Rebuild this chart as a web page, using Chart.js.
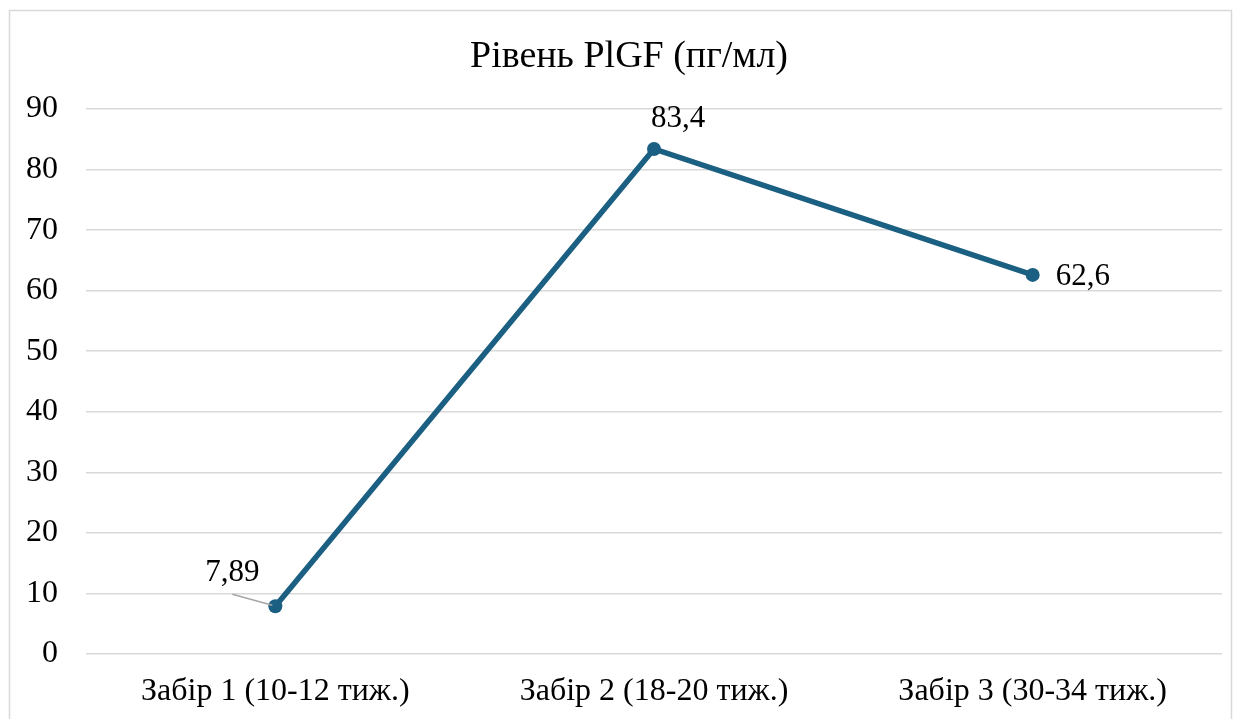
<!DOCTYPE html>
<html>
<head>
<meta charset="utf-8">
<script src="https://cdn.jsdelivr.net/npm/chart.js@4.4.1/dist/chart.umd.min.js"></script>
<style>
  html, body { margin: 0; padding: 0; background: #fff; }
  #wrap { position: relative; width: 1239px; height: 719px; }
</style>
</head>
<body>
<div id="wrap"><canvas id="chart" width="1239" height="719"></canvas></div>
<script>
// дані з графіка
const categories = ["Забір 1 (10-12 тиж.)", "Забір 2 (18-20 тиж.)", "Забір 3 (30-34 тиж.)"];
const plgfValues = [7.89, 83.4, 62.6];
const yTicks = [0, 10, 20, 30, 40, 50, 60, 70, 80, 90];
const chartTitle = "Рівень PlGF (пг/мл)";

const FONT = "'Liberation Serif', 'Times New Roman', serif";
const LINE_COLOR = "#1b5f82";

// рамка і заголовок (заголовок трохи правіше центру, як в оригіналі)
const frame = {
  id: "frame",
  beforeDraw(chart) {
    const c = chart.ctx;
    c.save();
    c.fillStyle = "#fff";
    c.fillRect(0, 0, chart.width, chart.height);
    c.strokeStyle = "#d9d9d9";
    c.lineWidth = 1.5;
    c.strokeRect(9.5, 10.5, 1222, 740);
    c.font = "38px " + FONT;
    c.fillStyle = "#000";
    c.textAlign = "center";
    c.textBaseline = "middle";
    c.fillText(chartTitle, 629, 57);
    c.restore();
  }
};

// підписи значень, як в Excel
const valueLabels = {
  id: "valueLabels",
  afterDatasetsDraw(chart) {
    const c = chart.ctx;
    const meta = chart.getDatasetMeta(0);
    c.save();
    c.font = "31px " + FONT;
    c.fillStyle = "#000";
    c.textBaseline = "middle";
    meta.data.forEach((pt, i) => {
      const txt = String(plgfValues[i]).replace(".", ",");
      if (i === 0) {
        // винесений підпис з лінією-виноскою
        c.strokeStyle = "#a6a6a6";
        c.lineWidth = 1.5;
        c.beginPath();
        c.moveTo(pt.x - 43, pt.y - 12);
        c.lineTo(pt.x - 3, pt.y - 1);
        c.stroke();
        c.textAlign = "center";
        c.fillText(txt, pt.x - 43, pt.y - 33);
      } else if (i === 1) {
        c.textAlign = "center";
        c.fillText(txt, pt.x + 24, pt.y - 30);
      } else {
        c.textAlign = "left";
        c.fillText(txt, pt.x + 23, pt.y + 2);
      }
    });
    c.restore();
  }
};

new Chart(document.getElementById("chart"), {
  type: "line",
  data: {
    labels: categories,
    datasets: [{
      label: "PlGF",
      data: plgfValues,
      borderColor: LINE_COLOR,
      backgroundColor: LINE_COLOR,
      borderWidth: 5.5,
      pointRadius: 7,
      pointBorderWidth: 0,
      pointBackgroundColor: LINE_COLOR,
      tension: 0
    }]
  },
  options: {
    responsive: false,
    animation: false,
    layout: { padding: { left: 0, right: 17, top: 109, bottom: 0 } },
    plugins: {
      legend: { display: false },
      tooltip: { enabled: false },
      title: { display: false }
    },
    scales: {
      x: {
        offset: true,
        grid: { display: false, drawTicks: false },
        border: { display: false },
        ticks: { color: "#000", font: { family: FONT, size: 32 }, padding: 18, maxRotation: 0 },
        afterFit(s) { s.height = 65; }
      },
      y: {
        min: 0,
        max: 90,
        afterBuildTicks(s) { s.ticks = yTicks.map(v => ({ value: v })); },
        grid: { color: "#d9d9d9", lineWidth: 1.5, drawTicks: false },
        border: { display: false },
        ticks: { color: "#000", font: { family: FONT, size: 32 }, padding: 28 },
        afterFit(s) { s.width = 86; }
      }
    }
  },
  plugins: [frame, valueLabels]
});
</script>
</body>
</html>
